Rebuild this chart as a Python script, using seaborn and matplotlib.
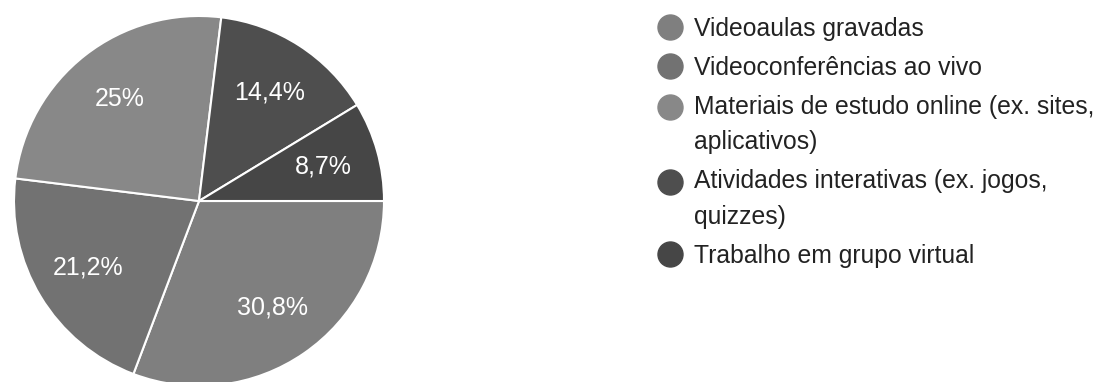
import matplotlib
matplotlib.use("Agg")
import numpy as np
import matplotlib.pyplot as plt
from matplotlib.lines import Line2D
from matplotlib.legend_handler import HandlerLine2D
import seaborn as sns

categories = [
    "Videoaulas gravadas",
    "Videoconferências ao vivo",
    "Materiais de estudo online (ex. sites,\naplicativos)",
    "Atividades interativas (ex. jogos,\nquizzes)",
    "Trabalho em grupo virtual",
]
values = [30.8, 21.2, 25.0, 14.4, 8.7]
colors = ["#7f7f7f", "#727272", "#888888", "#4e4e4e", "#464646"]

sns.set_theme(style="white")
plt.rcParams["font.family"] = ["Liberation Sans", "DejaVu Sans"]

W, H = 1099, 382
fig = plt.figure(figsize=(W / 100, H / 100), dpi=100)
fig.patch.set_facecolor("white")

R = 185
cx, cy = 199, 201
ax = fig.add_axes([(cx - R) / W, (H - cy - R) / H, 2 * R / W, 2 * R / H])
ax.set_axis_off()

pct_labels = [f"{v:g}".replace(".", ",") + "%" for v in values]
wedges, texts, autotexts = ax.pie(
    values,
    colors=colors,
    startangle=0,
    counterclock=False,
    autopct="%1.1f",
    pctdistance=0.7,
    wedgeprops=dict(edgecolor="white", linewidth=1.5),
    textprops=dict(color="white", fontsize=18),
)
for t, s in zip(autotexts, pct_labels):
    t.set_text(s)
ax.set_xlim(-1, 1)
ax.set_ylim(-1, 1)

LINESPACING = 1.62
LINE_GAP_PT = 37 * 72 / 100  # distance between wrapped lines, in points


class TopAlignedHandler(HandlerLine2D):
    """Place the marker next to the first line of a wrapped label."""

    def __init__(self, nlines, **kw):
        super().__init__(**kw)
        self.nlines = nlines

    def create_artists(self, legend, orig_handle, xdescent, ydescent,
                       width, height, fontsize, trans):
        arts = super().create_artists(legend, orig_handle, xdescent, ydescent,
                                      width, height, fontsize, trans)
        shift = (self.nlines - 1) * LINE_GAP_PT / 2
        for a in arts:
            a.set_ydata(np.asarray(a.get_ydata(), dtype=float) + shift)
        return arts


handles = [
    Line2D([], [], marker="o", linestyle="none", markersize=18,
           markerfacecolor=c, markeredgecolor=c)
    for c in colors
]
handler_map = {h: TopAlignedHandler(lab.count("\n") + 1)
               for h, lab in zip(handles, categories)}

leg = fig.legend(
    handles, categories,
    handler_map=handler_map,
    loc="upper left",
    bbox_to_anchor=(658 / W, 1 - 17.0 / H),
    frameon=False,
    fontsize=17.8,
    handlelength=1.0,
    handletextpad=0.45,
    borderpad=0,
    borderaxespad=0,
    labelspacing=0.6,
    labelcolor="#222222",
)
for t in leg.get_texts():
    t.set_linespacing(LINESPACING)

fig.savefig("out.png", dpi=100, facecolor="white")
